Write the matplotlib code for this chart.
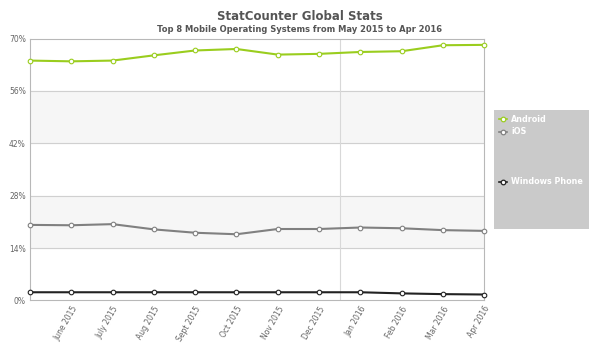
import matplotlib
matplotlib.use("Agg")
import matplotlib.pyplot as plt
from matplotlib.patches import Rectangle

months = ["May 2015", "June 2015", "July 2015", "Aug 2015", "Sept 2015", "Oct 2015",
          "Nov 2015", "Dec 2015", "Jan 2016", "Feb 2016", "Mar 2016", "Apr 2016"]
android = [64.1, 63.9, 64.1, 65.5, 66.8, 67.2, 65.7, 65.9, 66.4, 66.6, 68.2, 68.3]
ios = [20.2, 20.1, 20.4, 19.0, 18.1, 17.7, 19.1, 19.1, 19.5, 19.3, 18.8, 18.6]
windows_phone = [2.2, 2.2, 2.2, 2.2, 2.2, 2.2, 2.2, 2.2, 2.2, 1.9, 1.7, 1.6]
yticks = [0, 14, 28, 42, 56, 70]

fig = plt.figure(figsize=(6, 3.51), dpi=100)
ax = fig.add_axes([0.05, 0.1439, 0.757, 0.7464])

x = list(range(len(months)))
ax.set_xlim(0, len(months) - 1)
ax.set_ylim(0, 70)

# alternating bands + grid
for lo in [14, 42]:
    ax.axhspan(lo, lo + 14, color="#f6f6f6", zorder=0)
for t in yticks[1:-1]:
    ax.axhline(t, color="#d0d0d0", lw=0.8, zorder=1)
ax.axvline(7.5, color="#d8d8d8", lw=0.8, zorder=1)

series = [("Android", android, "#9acd1e"),
          ("iOS", ios, "#808080"),
          ("Windows Phone", windows_phone, "#222222")]
for name, vals, col in series:
    ax.plot(x, vals, color=col, lw=1.5, marker="o", ms=3.3, mfc="white",
            mec=col, mew=0.8, zorder=3, clip_on=False)

for s in ax.spines.values():
    s.set_color("#b8b8b8")
    s.set_linewidth(0.8)

ax.set_yticks(yticks)
ax.set_yticklabels([f"{t}%" for t in yticks], fontsize=5.5, color="#666666")
ax.set_xticks(x[1:])
ax.set_xticklabels(months[1:], rotation=60, ha="right", rotation_mode="anchor",
                   fontsize=5.5, color="#666666")
ax.tick_params(length=0, pad=3)

fig.text(0.5, 0.952, "StatCounter Global Stats", ha="center", va="center",
         fontsize=8.5, fontweight="bold", color="#555555")
fig.text(0.5, 0.917, "Top 8 Mobile Operating Systems from May 2015 to Apr 2016",
         ha="center", va="center", fontsize=6, fontweight="bold", color="#555555")

# legend box
fig.patches.append(Rectangle((494 / 600, 1 - 229 / 351), 95 / 600, 119 / 351,
                             transform=fig.transFigure, facecolor="#cacaca",
                             edgecolor="none"))
leg_y = [119, 132, 182]
for (name, vals, col), py in zip(series, leg_y):
    yf = 1 - py / 351
    fig.lines.append(plt.Line2D([499 / 600, 507 / 600], [yf, yf], color=col, lw=1.2,
                                transform=fig.transFigure))
    fig.lines.append(plt.Line2D([503 / 600], [yf], marker="o", ms=3.3, mfc="white",
                                mec=col, mew=0.9, transform=fig.transFigure))
    fig.text(511 / 600, yf, name, ha="left", va="center", fontsize=5.8,
             fontweight="bold", color="white")

fig.savefig("out.png", dpi=100, facecolor="white")
